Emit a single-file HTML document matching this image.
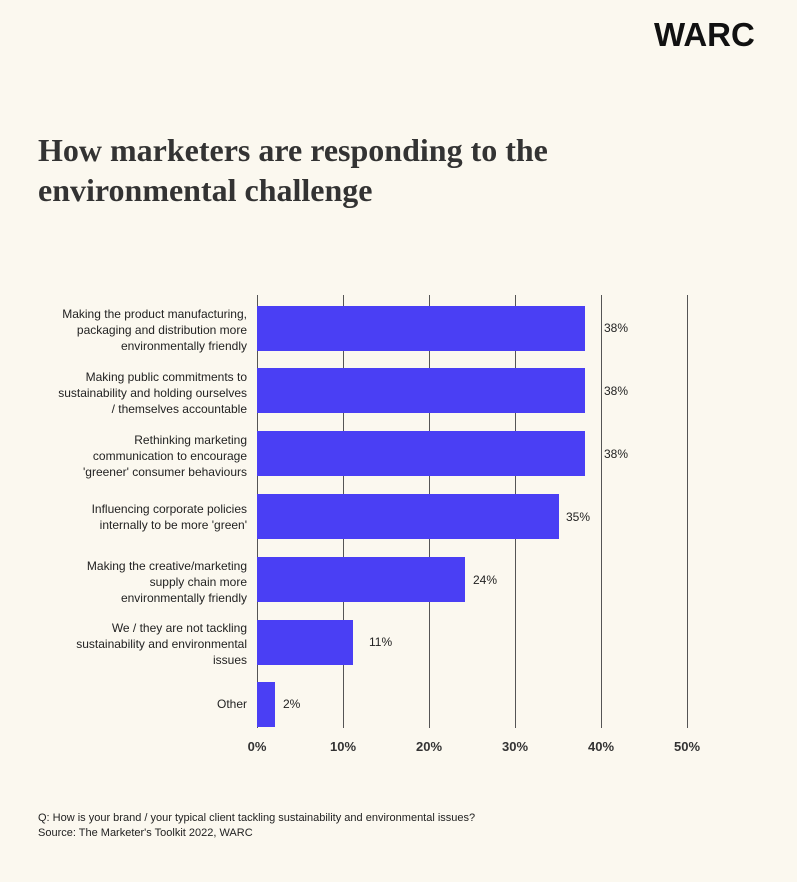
<!DOCTYPE html>
<html><head><meta charset="utf-8"><style>
body{margin:0;background:#fbf8ef;width:797px;height:882px;overflow:hidden;font-family:"Liberation Sans",sans-serif;color:#222;}
.logo{position:absolute;left:654px;top:16px;font:bold 33px "Liberation Sans",sans-serif;color:#111;}
.title{position:absolute;left:38px;top:130px;font:bold 32px/40px "Liberation Serif",serif;color:#333;}
.lab{position:absolute;right:550px;width:220px;text-align:right;font-size:12px;line-height:16px;color:#222;}
.grid{position:absolute;top:295px;height:433px;width:1px;background:#555;}
.bar{position:absolute;left:257px;height:45px;background:#4a3ff4;}
.val{position:absolute;font-size:12px;color:#222;}
.tick{position:absolute;top:739px;font-size:13px;font-weight:bold;color:#333;width:40px;text-align:center;}
.foot{position:absolute;left:38px;font-size:11px;color:#222;}
</style></head><body>
<div class="logo">WARC</div>
<div class="title">How marketers are responding to the<br>environmental challenge</div>

<div class="grid" style="left:257px"></div>
<div class="grid" style="left:343px"></div>
<div class="grid" style="left:429px"></div>
<div class="grid" style="left:515px"></div>
<div class="grid" style="left:601px"></div>
<div class="grid" style="left:687px"></div>

<div class="bar" style="top:306px;width:328px"></div><div class="val" style="left:604px;top:321px">38%</div>
<div class="bar" style="top:368px;width:328px"></div><div class="val" style="left:604px;top:384px">38%</div>
<div class="bar" style="top:431px;width:328px"></div><div class="val" style="left:604px;top:447px">38%</div>
<div class="bar" style="top:494px;width:302px"></div><div class="val" style="left:566px;top:510px">35%</div>
<div class="bar" style="top:557px;width:208px"></div><div class="val" style="left:473px;top:573px">24%</div>
<div class="bar" style="top:620px;width:96px"></div><div class="val" style="left:369px;top:635px">11%</div>
<div class="bar" style="top:682px;width:18px"></div><div class="val" style="left:283px;top:697px">2%</div>

<div class="lab" style="top:306px">Making the product manufacturing,<br>packaging and distribution more<br>environmentally friendly</div>
<div class="lab" style="top:369px">Making public commitments to<br>sustainability and holding ourselves<br>/ themselves accountable</div>
<div class="lab" style="top:432px">Rethinking marketing<br>communication to encourage<br>'greener' consumer behaviours</div>
<div class="lab" style="top:501px">Influencing corporate policies<br>internally to be more 'green'</div>
<div class="lab" style="top:558px">Making the creative/marketing<br>supply chain more<br>environmentally friendly</div>
<div class="lab" style="top:620px">We / they are not tackling<br>sustainability and environmental<br>issues</div>
<div class="lab" style="top:696px">Other</div>

<div class="tick" style="left:237px">0%</div>
<div class="tick" style="left:323px">10%</div>
<div class="tick" style="left:409px">20%</div>
<div class="tick" style="left:495px">30%</div>
<div class="tick" style="left:581px">40%</div>
<div class="tick" style="left:667px">50%</div>

<div class="foot" style="top:812px">Q: How is your brand / your typical client tackling sustainability and environmental issues?</div>
<div class="foot" style="top:827px">Source: The Marketer's Toolkit 2022, WARC</div>
</body></html>
